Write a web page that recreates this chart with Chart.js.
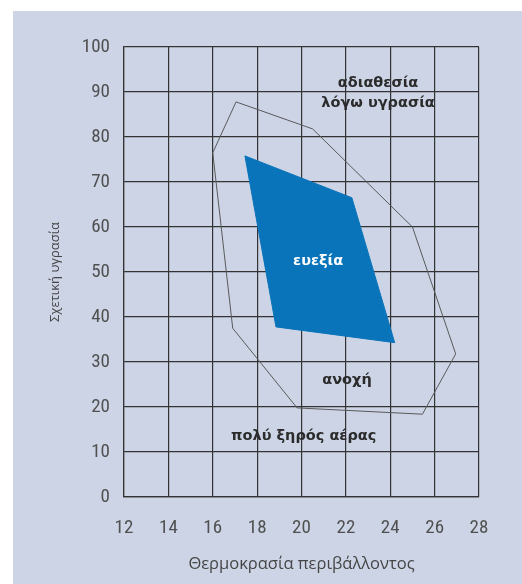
<!DOCTYPE html>
<html>
<head>
<meta charset="utf-8">
<script src="https://cdn.jsdelivr.net/npm/chart.js@4"></script>
<style>
html,body{margin:0;padding:0;background:#fff;}
#wrap{position:absolute;left:0;top:0;width:522px;height:584px;}
</style>
</head>
<body>
<div id="wrap"><canvas id="c" width="522" height="584"></canvas></div>
<script>
// Data
const tolerancePolygonX = [16.0, 17.05, 20.5, 25.0, 26.95, 25.45, 19.8, 16.9, 16.0];
const tolerancePolygonY = [76.5, 87.8, 81.8, 60.0, 31.8, 18.4, 19.8, 37.5, 76.5];
const comfortPolygonX = [17.45, 22.27, 24.2, 18.85, 17.45];
const comfortPolygonY = [75.8, 66.5, 34.3, 37.8, 75.8];
const xTicks = [12, 14, 16, 18, 20, 22, 24, 26, 28];
const yTicks = [0, 10, 20, 30, 40, 50, 60, 70, 80, 90, 100];
const zoneLabels = ["αδιαθεσία", "λόγω υγρασία", "ευεξία", "ανοχή", "πολύ ξηρός αέρας"];
const zoneLabelX = [23.45, 23.45, 20.75, 22.05, 20.1];
const zoneLabelY = [92.0, 87.4, 52.4, 26.0, 13.4];
const zoneLabelColor = ["#2b2b2b", "#2b2b2b", "#ffffff", "#2b2b2b", "#2b2b2b"];
const xTitle = "Θερμοκρασία περιβάλλοντος";
const yTitle = "Σχετική υγρασία";

const toPts = (xs, ys) => xs.map((x, i) => ({x: x, y: ys[i]}));

const panelBg = {
  id: 'panelBg',
  beforeDraw(chart) {
    const ctx = chart.ctx;
    ctx.save();
    ctx.fillStyle = '#ccd4e6';
    ctx.fillRect(13, 11, chart.width - 13, chart.height - 11);
    ctx.restore();
  }
};

const zoneText = {
  id: 'zoneText',
  afterDatasetsDraw(chart) {
    const ctx = chart.ctx;
    const xs = chart.scales.x, ys = chart.scales.y;
    ctx.save();
    ctx.font = 'bold 14.5px "DejaVu Sans", "Noto Sans", sans-serif';
    ctx.textAlign = 'center';
    ctx.textBaseline = 'middle';
    zoneLabels.forEach((t, i) => {
      ctx.fillStyle = zoneLabelColor[i];
      ctx.fillText(t, xs.getPixelForValue(zoneLabelX[i]), ys.getPixelForValue(zoneLabelY[i]));
    });
    ctx.restore();
  }
};

const tickFont = {family: '"Liberation Sans Narrow", "Roboto Condensed", "DejaVu Sans Condensed", sans-serif', size: 19};

new Chart(document.getElementById('c'), {
  type: 'scatter',
  data: {
    datasets: [
      {
        data: toPts(comfortPolygonX, comfortPolygonY),
        showLine: true,
        fill: 'shape',
        backgroundColor: '#0a74ba',
        borderColor: '#0a74ba',
        borderWidth: 1,
        pointRadius: 0,
        tension: 0,
        order: 2
      },
      {
        data: toPts(tolerancePolygonX, tolerancePolygonY),
        showLine: true,
        fill: false,
        borderColor: '#5a5a5a',
        borderWidth: 1,
        pointRadius: 0,
        tension: 0,
        order: 1
      }
    ]
  },
  plugins: [panelBg, zoneText],
  options: {
    responsive: false,
    animation: false,
    devicePixelRatio: 1,
    layout: {padding: {left: 0, right: 43, top: 47, bottom: 0}},
    plugins: {legend: {display: false}, tooltip: {enabled: false}},
    scales: {
      x: {
        type: 'linear',
        min: 12, max: 28,
        afterBuildTicks(s) { s.ticks = xTicks.map(v => ({value: v})); },
        afterFit(s) { s.height = 87; },
        grid: {color: '#333333', lineWidth: 1.2, drawTicks: false},
        border: {color: '#333333', width: 1.2},
        ticks: {color: '#505050', padding: 20, font: tickFont},
        title: {display: true, text: xTitle, color: '#454545', font: {family: '"Open Sans", sans-serif', size: 16.5}, padding: {top: 10, bottom: 10}}
      },
      y: {
        type: 'linear',
        min: 0, max: 100,
        afterBuildTicks(s) { s.ticks = yTicks.map(v => ({value: v})); },
        afterFit(s) { s.width = 124; },
        grid: {color: '#333333', lineWidth: 1.2, drawTicks: false},
        border: {color: '#333333', width: 1.2},
        ticks: {color: '#505050', padding: 14, font: tickFont},
        title: {display: true, text: yTitle, color: '#454545', font: {family: '"Open Sans", sans-serif', size: 13}, padding: {top: 47, bottom: 0}}
      }
    }
  }
});
</script>
</body>
</html>
